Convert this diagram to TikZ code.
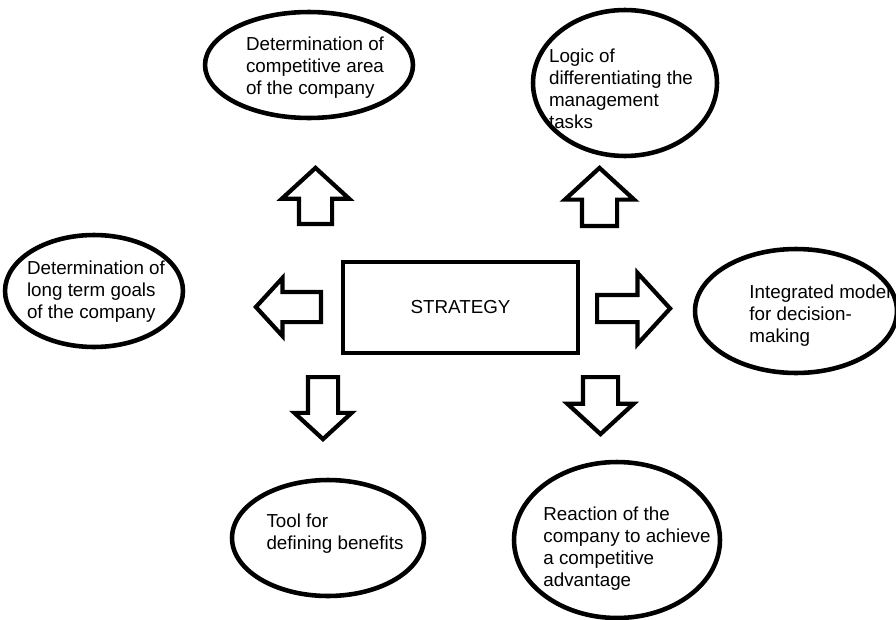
\documentclass[tikz,border=0pt]{standalone}
\usepackage{fontspec}
\setmainfont{Liberation Sans}
\usetikzlibrary{shapes.geometric, shapes.arrows, positioning}
\tikzstyle{bubble} = [ellipse, 
			draw, 
			line width = 2.6pt]
\tikzstyle{bubbletext} = [align = left, 
			inner sep = 0pt, 
			font = \fontsize{10.7}{12.5}\selectfont]
\tikzstyle{rect} = [rectangle, 
			draw, 
			line width = 2.6pt, 
			text centered, 
			font = \fontsize{10.7}{12.5}\selectfont]
\tikzstyle{fat} = [single arrow, 
			draw, 
			line width = 2.4pt, 
			single arrow head indent = 0pt, 
			single arrow tip angle = 95, 
			inner xsep = 0pt, 
			anchor = tail]

\begin{document}
\begin{tikzpicture}[x = 0.02cm, y = -0.02cm]
	\useasboundingbox (0,0) rectangle (896,619);
	% centre
	\node [rect, minimum width = 4.7cm, minimum height = 1.82cm] (strategy) at (460.5,307.5) {STRATEGY};
	% ellipses
	\node [bubble, minimum width = 4.16cm, minimum height = 2.12cm] (area) at (309,65) {};
	\node [bubbletext] (areaText) at (315,68) {Determination of\\competitive area\\of the company};
	\node [bubble, minimum width = 3.68cm, minimum height = 2.92cm] (logic) at (625,83) {};
	\node [bubbletext] (logicText) at (621,89) {Logic of\\differentiating the\\management\\tasks};
	\node [bubble, minimum width = 3.56cm, minimum height = 2.24cm] (goals) at (94,291) {};
	\node [bubbletext] (goalsText) at (96,292) {Determination of\\long term goals\\of the company};
	\node [bubble, minimum width = 4.04cm, minimum height = 2.48cm] (model) at (796,311) {};
	\node [bubbletext] (modelText) at (820,316) {Integrated model\\for decision-\\making};
	\node [bubble, minimum width = 3.84cm, minimum height = 2.32cm] (tool) at (328,538) {};
	\node [bubbletext] (toolText) at (335,534) {Tool for\\defining benefits};
	\node [bubble, minimum width = 4.12cm, minimum height = 3.12cm] (reaction) at (617,540) {};
	\node [bubbletext] (reactionText) at (627,549) {Reaction of the\\company to achieve\\a competitive\\advantage};
	% block arrows
	\node [fat, rotate = 90, inner ysep = 0.29cm, minimum height = 1.12cm, single arrow head extend = 0.34cm] (upL) at (315.5,226) {};
	\node [fat, rotate = 90, inner ysep = 0.31cm, minimum height = 1.16cm, single arrow head extend = 0.34cm] (upR) at (599.5,228) {};
	\node [fat, rotate = 180, inner ysep = 0.26cm, minimum height = 1.3cm, single arrow head extend = 0.28cm] (toGoals) at (323,307) {};
	\node [fat, inner ysep = 0.23cm, minimum height = 1.46cm, single arrow head extend = 0.44cm] (toModel) at (595,308.5) {};
	\node [fat, rotate = -90, inner ysep = 0.26cm, minimum height = 1.24cm, single arrow head extend = 0.27cm] (downL) at (323,375) {};
	\node [fat, rotate = -90, inner ysep = 0.31cm, minimum height = 1.14cm, single arrow head extend = 0.31cm] (downR) at (600.5,375) {};
\end{tikzpicture}
\end{document}
